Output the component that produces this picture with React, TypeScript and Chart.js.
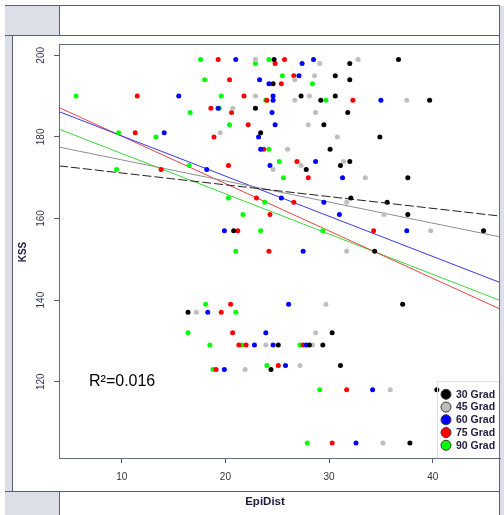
import React, { useEffect, useRef } from 'react';
import { Chart, registerables } from 'chart.js';
Chart.register(...registerables);

const groupNames = ['30 Grad', '45 Grad', '60 Grad', '75 Grad', '90 Grad'];
const pointColors = ['#000000', '#bebebe', '#0000ff', '#ff0000', '#00ff00'];
const lineColors = ['#222222', '#8f8f8f', '#3a3ae6', '#e64646', '#3cd83c'];

const epi30 = [24.7, 24.6, 22.9, 23.4, 36.7, 32.0, 30.6, 32.0, 27.3, 29.2, 30.6, 39.7, 31.8, 29.5, 34.9, 30.1, 32.0, 27.8, 31.1, 37.6, 32.1, 35.6, 37.6, 44.9, 34.4, 37.1, 30.3, 20.8, 16.4, 25.1, 28.1, 29.4, 24.4, 31.1, 40.4, 37.8];
const kss30 = [199, 193, 187, 181, 199, 198, 195, 194, 190, 189, 190, 189, 186, 183, 180, 177, 174, 172, 173, 170, 165, 164, 161, 157, 152, 139, 132, 157, 137, 129, 129, 129, 123, 124, 118, 105];

const epi45 = [22.9, 29.1, 32.8, 28.6, 26.7, 22.9, 28.1, 26.7, 37.5, 20.7, 28.7, 28.0, 19.5, 30.8, 26.0, 24.6, 31.4, 27.3, 33.5, 31.7, 35.3, 39.8, 31.7, 29.7, 28.7, 17.2, 23.9, 28.4, 21.9, 27.2, 35.9, 35.2];
const kss45 = [199, 198, 199, 195, 194, 190, 190, 189, 189, 187, 186, 183, 181, 180, 177, 172, 174, 173, 170, 164, 161, 157, 152, 139, 132, 137, 129, 129, 123, 124, 118, 105];

const epi60 = [21.0, 28.5, 27.4, 23.3, 27.1, 24.2, 15.5, 24.6, 24.6, 35.0, 19.3, 24.5, 24.8, 14.1, 23.2, 23.4, 24.3, 18.2, 28.7, 31.3, 25.4, 29.5, 31.0, 37.5, 19.9, 27.5, 26.1, 18.3, 23.9, 22.8, 24.6, 27.8, 19.9, 25.8, 34.2, 32.6];
const kss60 = [199, 199, 198, 194, 195, 193, 190, 190, 189, 189, 187, 186, 183, 181, 180, 177, 173, 172, 174, 170, 165, 164, 161, 157, 157, 152, 139, 137, 132, 129, 129, 129, 123, 124, 118, 105];

const epi75 = [19.3, 25.7, 24.8, 20.4, 26.6, 25.4, 11.5, 21.8, 24.0, 32.3, 18.6, 20.6, 22.2, 11.3, 18.9, 23.7, 13.8, 20.3, 26.9, 28.0, 23.0, 26.6, 24.3, 21.2, 34.3, 24.2, 20.5, 19.6, 20.7, 21.3, 22.0, 27.5, 19.1, 25.1, 31.7, 30.3];
const kss75 = [199, 199, 198, 194, 195, 193, 190, 190, 189, 189, 187, 186, 183, 181, 180, 177, 172, 173, 174, 170, 165, 164, 161, 157, 157, 152, 139, 137, 132, 129, 129, 129, 123, 124, 118, 105];

const epi90 = [17.6, 22.9, 24.2, 18.0, 25.5, 28.4, 5.6, 19.6, 23.9, 29.7, 16.6, 19.4, 20.4, 9.7, 13.3, 24.2, 9.5, 16.5, 25.2, 25.6, 20.3, 23.8, 21.7, 23.4, 29.4, 21.0, 18.1, 21.0, 16.4, 18.5, 21.6, 27.2, 18.8, 24.0, 29.1, 27.9];
const kss90 = [199, 198, 199, 194, 195, 193, 190, 190, 189, 189, 186, 187, 183, 181, 180, 177, 172, 173, 174, 170, 165, 164, 161, 157, 157, 152, 139, 137, 132, 129, 129, 129, 123, 124, 118, 105];

const fitX = [3.95, 46.5];
const fit30 = [172.9, 160.6];
const fit45 = [177.5, 155.5];
const fit60 = [186.2, 144.3];
const fit75 = [187.2, 137.8];
const fit90 = [181.9, 139.9];

const xTicks = [10, 20, 30, 40];
const yTicks = [120, 140, 160, 180, 200];
const rSquaredLabel = 'R²=0.016';
const xTitle = 'EpiDist';
const yTitle = 'KSS';

const epiSets = [epi30, epi45, epi60, epi75, epi90];
const kssSets = [kss30, kss45, kss60, kss75, kss90];
const fitSets = [fit30, fit45, fit60, fit75, fit90];

const FONT = 'Arial, "Liberation Sans", sans-serif';

const framePlugin = {
  id: 'frame',
  beforeDraw(chart: any) {
    const ctx = chart.ctx;
    const W = chart.width, H = chart.height;
    const lc = '#5a5e73';
    const fc = '#dcdfe7';
    ctx.save();
    ctx.fillStyle = '#ffffff';
    ctx.fillRect(0, 0, W, H);
    ctx.fillStyle = fc;
    ctx.fillRect(5, 6, 54, 29);
    ctx.fillRect(5, 492, 54, H - 492);
    ctx.fillRect(5, 36, 7, 455);
    ctx.fillRect(500, 6, W - 500, H - 6);
    ctx.strokeStyle = lc;
    ctx.lineWidth = 1;
    ctx.beginPath();
    ctx.moveTo(5, 5.5); ctx.lineTo(499.5, 5.5);
    ctx.moveTo(5, 35.5); ctx.lineTo(499.5, 35.5);
    ctx.moveTo(59.5, 5); ctx.lineTo(59.5, 35.5);
    ctx.moveTo(12.5, 36); ctx.lineTo(12.5, 491.5);
    ctx.moveTo(5, 491.5); ctx.lineTo(499.5, 491.5);
    ctx.moveTo(59.5, 491.5); ctx.lineTo(59.5, H);
    ctx.moveTo(499.5, 5); ctx.lineTo(499.5, H);
    ctx.stroke();
    ctx.restore();
  },
  afterDraw(chart: any) {
    const ctx = chart.ctx;
    const a = chart.chartArea;
    ctx.save();
    ctx.strokeStyle = '#666a7c';
    ctx.lineWidth = 1;
    ctx.strokeRect(a.left + 0.5, a.top + 0.5, a.right - a.left - 1, a.bottom - a.top);
    // R squared
    ctx.fillStyle = '#000000';
    ctx.font = '16px ' + FONT;
    ctx.textAlign = 'left';
    ctx.textBaseline = 'middle';
    ctx.fillText(rSquaredLabel, 89, 382);
    // axis titles
    ctx.fillStyle = '#1c1c40';
    ctx.font = 'bold 11.5px ' + FONT;
    ctx.textAlign = 'center';
    ctx.fillText(xTitle, 265, 502);
    ctx.save();
    ctx.translate(23, 252);
    ctx.rotate(-Math.PI / 2);
    ctx.font = 'bold 10px ' + FONT;
    ctx.fillText(yTitle, 0, 0);
    ctx.restore();
    // legend
    ctx.strokeStyle = '#e2e2e2';
    ctx.beginPath();
    ctx.moveTo(437.5, a.bottom);
    ctx.lineTo(437.5, 381.5);
    ctx.lineTo(a.right - 1, 381.5);
    ctx.stroke();
    const rowY = 394.3;
    const step = 12.75;
    groupNames.forEach((name, i) => {
      const y = rowY + i * step;
      ctx.beginPath();
      ctx.arc(446, y, 5, 0, Math.PI * 2);
      ctx.fillStyle = pointColors[i];
      ctx.fill();
      ctx.strokeStyle = '#3a3a3a';
      ctx.lineWidth = 1;
      ctx.stroke();
      ctx.fillStyle = '#1c1c40';
      ctx.font = 'bold 10.5px ' + FONT;
      ctx.textAlign = 'left';
      ctx.textBaseline = 'middle';
      ctx.fillText(name, 456, y + 0.5);
    });
    ctx.restore();
  },
};

export default function App() {
  const ref = useRef<HTMLCanvasElement | null>(null);
  useEffect(() => {
    if (!ref.current) return;
    const pointDatasets = groupNames.map((name, i) => ({
      type: 'scatter' as const,
      label: name,
      data: epiSets[i].map((x, j) => ({ x, y: kssSets[i][j] })),
      backgroundColor: pointColors[i],
      borderWidth: 0,
      pointRadius: 2.5,
      order: 1,
    }));
    const lineDatasets = groupNames.map((name, i) => ({
      type: 'line' as const,
      label: name + ' fit',
      data: fitX.map((x, j) => ({ x, y: fitSets[i][j] })),
      borderColor: lineColors[i],
      borderWidth: 1,
      borderDash: i === 0 ? [9, 3] : [],
      pointRadius: 0,
      fill: false,
      order: 10,
    }));
    const chart = new Chart(ref.current, {
      type: 'scatter',
      data: { datasets: [...pointDatasets, ...lineDatasets] as any },
      options: {
        animation: false,
        responsive: false,
        layout: { padding: { top: 44, right: 4, left: 0, bottom: 0 } },
        plugins: { legend: { display: false }, tooltip: { enabled: false } },
        scales: {
          x: {
            type: 'linear',
            min: 3.95,
            max: 46.49,
            afterBuildTicks: (s: any) => { s.ticks = xTicks.map((v) => ({ value: v })); },
            afterFit: (s: any) => { s.height = 57; },
            ticks: { font: { size: 10, family: FONT }, color: '#333333', padding: 8, maxRotation: 0 },
            grid: { drawOnChartArea: false, drawTicks: true, tickLength: 5, color: '#555a6a' },
            border: { display: true, color: '#666a7c' },
          },
          y: {
            type: 'linear',
            min: 101.3,
            max: 202.77,
            afterBuildTicks: (s: any) => { s.ticks = yTicks.map((v) => ({ value: v })); },
            afterFit: (s: any) => { s.width = 59; },
            ticks: { font: { size: 10, family: FONT }, color: '#333355', padding: 4, minRotation: 90, maxRotation: 90, crossAlign: 'center' },
            grid: { drawOnChartArea: false, drawTicks: true, tickLength: 5, color: '#555a6a' },
            border: { display: true, color: '#666a7c' },
          },
        },
      },
      plugins: [framePlugin],
    });
    return () => chart.destroy();
  }, []);
  return (
    <div style={{ position: 'fixed', left: 0, top: 0, width: 504, height: 515 }}>
      <canvas ref={ref} width={504} height={515} style={{ display: 'block' }} />
    </div>
  );
}
